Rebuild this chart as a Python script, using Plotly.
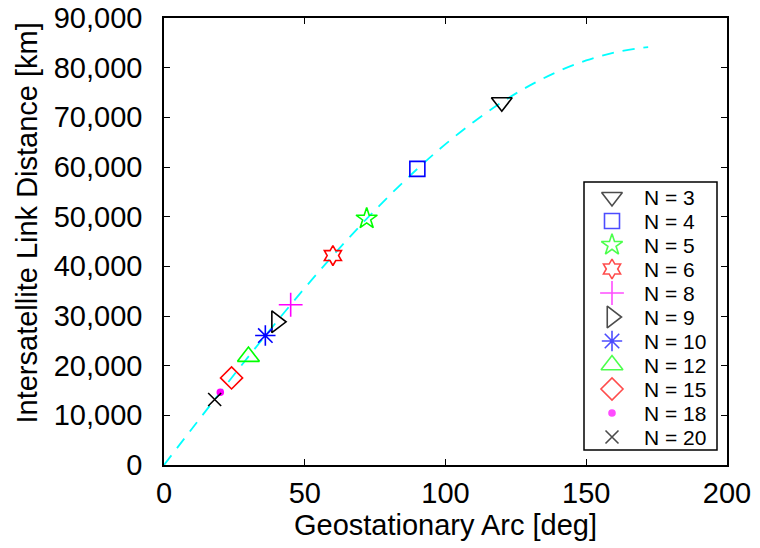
import plotly.graph_objects as go

# Curve (geostationary arc in deg -> link distance in km)
curve_arc = [0, 10, 20, 30, 40, 50, 60, 70, 80, 90, 100, 110, 120, 130, 140, 150, 160, 170, 172]
curve_dist = [0, 7350, 14640, 21830, 28840, 35640, 42160, 48370, 54200, 59630,
              64600, 69070, 73030, 76430, 79250, 81450, 83050, 84010, 84120]

# Constellation points
labels = ["N = 3", "N = 4", "N = 5", "N = 6", "N = 8", "N = 9", "N = 10",
          "N = 12", "N = 15", "N = 18", "N = 20"]
arc_deg = [120, 90, 72, 60, 45, 40, 36, 30, 24, 20, 18]
dist_km = [73030, 59630, 49600, 42160, 32270, 28840, 26060, 21830, 17530, 14640, 13180]

symbols = ["triangle-down-open", "square-open", "star-open", "hexagram-open",
           "cross-thin-open", "triangle-right-open", "asterisk-open",
           "triangle-up-open", "diamond-open", "circle", "x-thin-open"]
colors = ["black", "blue", "#00ff00", "red", "magenta", "black", "blue",
          "#00ff00", "red", "magenta", "black"]
sizes = [18, 15, 16, 15, 17, 19, 17, 19, 17, 6, 13]

FONT = "Liberation Sans, Arial, sans-serif"

fig = go.Figure()
fig.add_trace(go.Scatter(
    x=curve_arc, y=curve_dist, mode="lines", line_shape="spline",
    line=dict(color="#00ffff", width=1.8, dash="12px,9px"),
    showlegend=False, hoverinfo="skip"))

for lab, xv, yv, sym, col, sz in zip(labels, arc_deg, dist_km, symbols, colors, sizes):
    fig.add_trace(go.Scatter(
        x=[xv], y=[yv], mode="markers", name=lab, showlegend=False,
        marker=dict(symbol=sym, color=col, size=sz,
                    line=dict(color=col, width=1.6))))

# Legend box drawn on its own small axis pair (units: pixels inside the box)
legend_rows = list(range(len(labels)))
fig.add_trace(go.Scatter(
    x=[28] * len(labels), y=[15 + 24 * r for r in legend_rows],
    mode="markers", xaxis="x2", yaxis="y2", showlegend=False, hoverinfo="skip",
    marker=dict(symbol=symbols, color=colors, size=sizes,
                line=dict(color=colors, width=1.6))))
for r, lab in zip(legend_rows, labels):
    fig.add_annotation(x=58, y=15 + 24 * r, xref="x2", yref="y2", text=lab,
                       showarrow=False, xanchor="left", yanchor="middle",
                       font=dict(family=FONT, size=21, color="black"))

axis_common = dict(
    showline=True, linecolor="black", linewidth=1.6, mirror="ticks",
    ticks="inside", ticklen=6, tickwidth=1.3, tickcolor="black",
    showgrid=False, zeroline=False, ticklabeloverflow="allow",
    automargin=False,
    tickfont=dict(family=FONT, size=29, color="black"),
)

# plot area in page px: x 164..727, y 18..465
lx0, lx1 = (584 - 164) / 563, (717 - 164) / 563
ly0, ly1 = (465 - 450) / 447, (465 - 182) / 447

fig.update_layout(
    width=760, height=548,
    margin=dict(l=164, r=33, t=18, b=83, autoexpand=False),
    paper_bgcolor="white", plot_bgcolor="white",
    font=dict(family=FONT, color="black"),
    xaxis=dict(range=[0, 200], dtick=50, ticklabelstandoff=1,
               title=dict(text="Geostationary Arc [deg]",
                          font=dict(size=29), standoff=0),
               **axis_common),
    yaxis=dict(range=[0, 90000], dtick=10000, tickformat=",d",
               ticklabelstandoff=14, **axis_common),
    xaxis2=dict(domain=[lx0, lx1], range=[0, 133], anchor="y2",
                visible=False, fixedrange=True),
    yaxis2=dict(domain=[ly0, ly1], range=[268, 0], anchor="x2",
                visible=False, fixedrange=True),
    shapes=[dict(type="rect", xref="paper", yref="paper",
                 x0=lx0, x1=lx1, y0=ly0, y1=ly1,
                 line=dict(color="black", width=1.5), layer="above")],
    showlegend=False,
)

# y-axis title (sits slightly above the plot centre in the reference)
fig.add_annotation(text="Intersatellite Link Distance [km]", textangle=-90,
                   xref="paper", yref="paper",
                   x=(27 - 164) / 563, y=(465 - 223.5) / 447,
                   xanchor="center", yanchor="middle", showarrow=False,
                   font=dict(family=FONT, size=29, color="black"))

fig.write_html("out.html",
               config={"displayModeBar": False},
               post_script="document.body.style.margin='0';")
